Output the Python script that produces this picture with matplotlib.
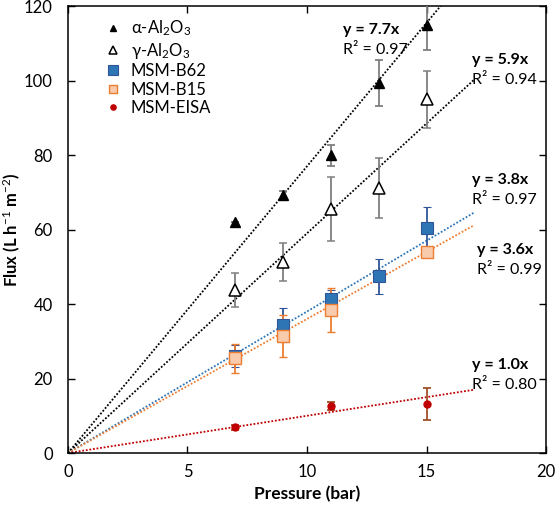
import matplotlib
matplotlib.use("Agg")
import matplotlib.pyplot as plt
import numpy as np

plt.rcParams['font.family'] = ['Lato', 'DejaVu Sans']
plt.rcParams['mathtext.fontset'] = 'custom'
plt.rcParams['mathtext.rm'] = 'Lato'
plt.rcParams['mathtext.it'] = 'Lato:italic'
plt.rcParams['mathtext.bf'] = 'Lato:bold'

# Data
alpha_x = [7, 9, 11, 13, 15]
alpha_y = [62.0, 69.3, 80.0, 99.3, 114.9]
alpha_err = [0.0, 1.0, 2.8, 6.2, 6.7]

gamma_x = [7, 9, 11, 13, 15]
gamma_y = [43.8, 51.4, 65.4, 71.1, 95.0]
gamma_err = [4.5, 5.1, 8.6, 8.1, 7.7]

b62_x = [7, 9, 11, 13, 15]
b62_y = [26.0, 34.4, 41.3, 47.5, 60.5]
b62_err = [3.0, 4.5, 2.5, 4.7, 5.6]

b15_x = [7, 9, 11, 15]
b15_y = [25.4, 31.4, 38.4, 54.0]
b15_err = [4.0, 5.7, 5.8, 1.0]

eisa_x = [7, 11, 15]
eisa_y = [6.9, 12.6, 13.2]
eisa_err = [0.6, 1.0, 4.2]

slopes = [7.7, 5.9, 3.8, 3.6, 1.0]
r2 = [0.97, 0.94, 0.97, 0.99, 0.80]
fit_end = 17

fig = plt.figure(figsize=(5.55, 5.12), dpi=100)
ax = fig.add_axes([0.1225, 0.1152, 0.8613, 0.8728])

gray = '#7f7f7f'
blue = '#2e75b6'
blue_dark = '#2f5597'
orange = '#ed7d31'
orange_fill = '#f8cbad'
red = '#c00000'
red_err = '#a0502a'

xx = np.array([0, fit_end])
ls = (0, (1, 1))
ax.plot(xx, slopes[0] * xx, color='black', ls=ls, lw=1.3, zorder=1)
ax.plot(xx, slopes[1] * xx, color='black', ls=ls, lw=1.3, zorder=1)
ax.plot(xx, slopes[2] * xx, color=blue, ls=ls, lw=1.3, zorder=1)
ax.plot(xx, slopes[3] * xx, color=orange, ls=ls, lw=1.3, zorder=1)
ax.plot(xx, slopes[4] * xx, color=red, ls=ls, lw=1.3, zorder=1)

ax.errorbar(alpha_x, alpha_y, yerr=alpha_err, fmt='^', color='black', ms=6.5,
            ecolor=gray, elinewidth=1.3, capsize=3, capthick=1.3, label=r'α-Al$_2$O$_3$', zorder=3)
ax.errorbar(gamma_x, gamma_y, yerr=gamma_err, fmt='^', mfc='white', mec='black', mew=1.1, ms=8,
            ecolor=gray, elinewidth=1.3, capsize=3, capthick=1.3, label=r'γ-Al$_2$O$_3$', zorder=3)
ax.errorbar(b62_x, b62_y, yerr=b62_err, fmt='s', mfc=blue, mec=blue_dark, mew=0.8, ms=9,
            ecolor=blue_dark, elinewidth=1.3, capsize=3, capthick=1.3, label='MSM-B62', zorder=3)
ax.errorbar(b15_x, b15_y, yerr=b15_err, fmt='s', mfc=orange_fill, mec=orange, mew=1.0, ms=8,
            ecolor=orange, elinewidth=1.3, capsize=3, capthick=1.3, label='MSM-B15', zorder=3)
ax.errorbar(eisa_x, eisa_y, yerr=eisa_err, fmt='o', mfc=red, mec=red, ms=5,
            ecolor=red_err, elinewidth=1.3, capsize=3, capthick=1.3, label='MSM-EISA', zorder=3)

# annotation positions (equation line), data coords
ann = [(11.5, 113.5), (16.9, 105.5), (16.9, 73.3), (17.1, 54.5), (16.9, 23.6)]
for (tx, ty), s, r in zip(ann, slopes, r2):
    ax.text(tx, ty, f'y = {s:.1f}x', fontsize=11.5, fontweight='bold', ha='left', va='center')
    ax.text(tx, ty - 5.4, f'R² = {r:.2f}', fontsize=11.5, ha='left', va='center')

ax.set_xlim(0, 20)
ax.set_ylim(0, 120)
ax.set_xticks([0, 5, 10, 15, 20])
ax.set_yticks([0, 20, 40, 60, 80, 100, 120])
ax.tick_params(direction='in', top=True, right=True, labelsize=12, length=5, width=1)
ax.tick_params(axis='y', pad=11)
ax.tick_params(axis='x', pad=8)
for sp in ax.spines.values():
    sp.set_linewidth(1.1)

ax.set_xlabel('Pressure (bar)', fontsize=12.5, fontweight='bold')
ax.set_ylabel('Flux (L h$^{-1}$ m$^{-2}$)', fontsize=12, fontweight='bold')
ax.xaxis.set_label_coords(0.5, -0.074)
ax.yaxis.set_label_coords(-0.097, 0.5)

handles, labels = ax.get_legend_handles_labels()
hs = [h[0] for h in handles]
leg = ax.legend(hs, labels, loc='upper left', frameon=False, fontsize=12, handlelength=1.0,
                handletextpad=0.6, labelspacing=0.15, bbox_to_anchor=(0.055, 0.995),
                borderaxespad=0.2, markerscale=0.75)

fig.savefig('out.png', dpi=100)
